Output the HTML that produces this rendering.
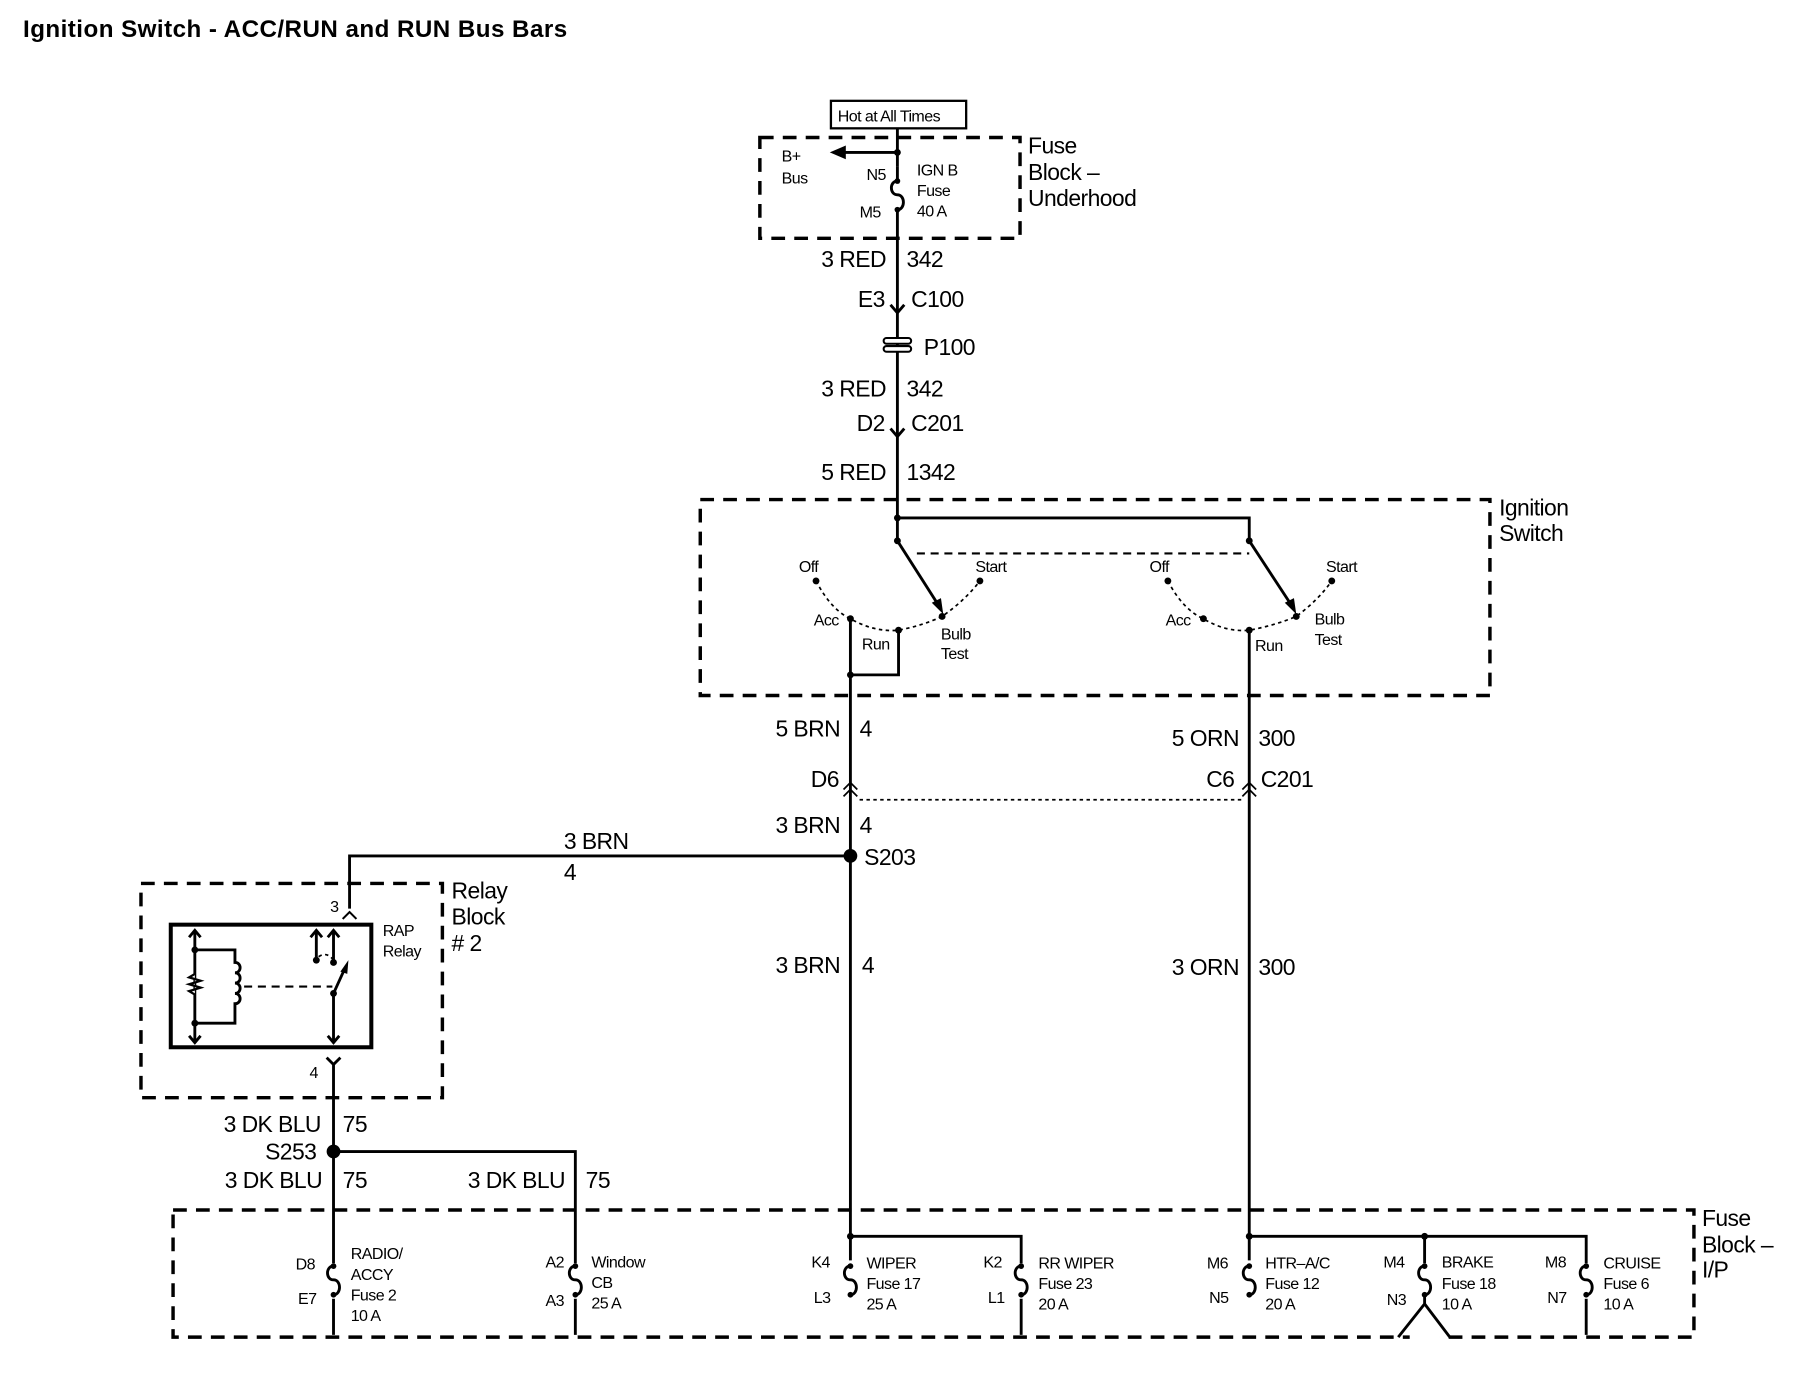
<!DOCTYPE html>
<html><head><meta charset="utf-8"><style>
html,body{margin:0;padding:0;background:#fff;}
svg{display:block;}
text{font-family:"Liberation Sans",Arial,sans-serif;fill:#000;}
.t{font-size:20px;letter-spacing:-0.5px;}
.s{font-size:14px;letter-spacing:-0.5px;}
.ln{stroke:#000;stroke-width:2.5;fill:none;}
.db{stroke:#000;stroke-width:3;fill:none;stroke-dasharray:12 8;}
.dt{stroke:#000;stroke-width:1.5;fill:none;stroke-dasharray:3 3;}
.ds{stroke:#000;stroke-width:1.8;fill:none;stroke-dasharray:7 5;}
</style></head><body>
<svg width="1796" height="1392" viewBox="0 0 1560 1209.4" preserveAspectRatio="none" xmlns="http://www.w3.org/2000/svg">
<text x="20" y="32" style="font-size:21px;font-weight:bold;letter-spacing:0.4px">Ignition Switch - ACC/RUN and RUN Bus Bars</text>
<g transform="scale(0.9955)">
<!-- Hot at all times -->
<rect x="725" y="88" width="118" height="24" fill="none" stroke="#000" stroke-width="2"/>
<text x="731" y="106" class="s">Hot at All Times</text>
<line x1="783" y1="112" x2="783" y2="145" class="ln"/>
<rect x="663" y="120" width="227" height="88" class="db"/>
<text x="897" y="134" class="t">Fuse</text><text x="897" y="157" class="t">Block –</text><text x="897" y="180" class="t">Underhood</text>
<line x1="783" y1="133" x2="735" y2="133" class="ln"/>
<polygon points="724,133 738,127 738,139"/>
<circle cx="783" cy="133" r="3"/>
<text x="682" y="141" class="s">B+</text><text x="682" y="160" class="s">Bus</text>
<path d="M783,145 L783,158 c-7,0 -7,12 0,12 c7,0 7,13 0,13 L783,452" class="ln"/>
<circle cx="783" cy="158" r="2.5"/><circle cx="783" cy="183" r="2.5"/>
<text x="756" y="157" class="s">N5</text><text x="750" y="190" class="s">M5</text>
<text x="800" y="153" class="s">IGN B</text><text x="800" y="171" class="s">Fuse</text><text x="800" y="189" class="s">40  A</text>

<text x="773" y="233" class="t" text-anchor="end">3 RED</text><text x="791" y="233" class="t">342</text>
<text x="772" y="268" class="t" text-anchor="end">E3</text><text x="795" y="268" class="t">C100</text>
<path d="M777,266 L783,273 L789,266" class="ln" stroke-width="1.8"/>
<rect x="771" y="295" width="24" height="5" rx="2.5" fill="#fff" stroke="#000" stroke-width="1.8"/>
<rect x="771" y="302" width="24" height="5" rx="2.5" fill="#fff" stroke="#000" stroke-width="1.8"/>
<text x="806" y="310" class="t">P100</text>
<text x="773" y="346" class="t" text-anchor="end">3 RED</text><text x="791" y="346" class="t">342</text>
<text x="772" y="376" class="t" text-anchor="end">D2</text><text x="795" y="376" class="t">C201</text>
<path d="M777,374 L783,381 L789,374" class="ln" stroke-width="1.8"/>
<text x="773" y="419" class="t" text-anchor="end">5 RED</text><text x="791" y="419" class="t">1342</text>

<rect x="611" y="436" width="689" height="171" class="db"/>
<text x="1308" y="450" class="t">Ignition</text><text x="1308" y="472" class="t">Switch</text>
<path d="M783,452 L783,472 M783,452 L1090,452 L1090,472" class="ln"/>
<circle cx="783" cy="452" r="3"/><circle cx="783" cy="472" r="3"/><circle cx="1090" cy="472" r="3"/>
<line x1="783" y1="472" x2="820" y2="530" class="ln"/>
<polygon points="823,536 813,526 821,522"/>
<line x1="1090" y1="472" x2="1128" y2="530" class="ln"/>
<polygon points="1131,536 1121,526 1129,522"/>
<line x1="800" y1="483" x2="1090" y2="483" class="ds"/>
<path d="M712,507 Q725,532 742,540 Q763,552 784,550 Q805,546 822,538 Q842,524 855,507" class="dt"/>
<path d="M1019,507 Q1032,532 1050,540 Q1070,552 1090,550 Q1112,546 1131,538 Q1150,524 1162,507" class="dt"/>
<g>
<circle cx="712" cy="507" r="3"/><circle cx="742" cy="540" r="3"/><circle cx="784" cy="550" r="3"/><circle cx="822" cy="538" r="3"/><circle cx="855" cy="507" r="3"/>
<circle cx="1019" cy="507" r="3"/><circle cx="1050" cy="540" r="3"/><circle cx="1090" cy="550" r="3"/><circle cx="1131" cy="538" r="3"/><circle cx="1162" cy="507" r="3"/>
</g>
<text x="697" y="499" class="s">Off</text><text x="851" y="499" class="s">Start</text>
<text x="710" y="546" class="s">Acc</text><text x="752" y="567" class="s">Run</text>
<text x="821" y="558" class="s">Bulb</text><text x="821" y="575" class="s">Test</text>
<text x="1003" y="499" class="s">Off</text><text x="1157" y="499" class="s">Start</text>
<text x="1017" y="546" class="s">Acc</text><text x="1095" y="568" class="s">Run</text>
<text x="1147" y="545" class="s">Bulb</text><text x="1147" y="563" class="s">Test</text>
<path d="M742,540 L742,1100 M742,589 L784,589 L784,550" class="ln"/>
<circle cx="742" cy="589" r="3"/>
<path d="M1090,550 L1090,1100" class="ln"/>

<text x="733" y="643" class="t" text-anchor="end">5 BRN</text><text x="750" y="643" class="t">4</text>
<text x="1081" y="651" class="t" text-anchor="end">5 ORN</text><text x="1098" y="651" class="t">300</text>
<text x="732" y="687" class="t" text-anchor="end">D6</text>
<text x="1077" y="687" class="t" text-anchor="end">C6</text><text x="1100" y="687" class="t">C201</text>
<path d="M736,689 L742,683 L748,689 M736,695 L742,689 L748,695" fill="none" stroke="#000" stroke-width="1.5"/>
<path d="M1084,689 L1090,683 L1096,689 M1084,695 L1090,689 L1096,695" fill="none" stroke="#000" stroke-width="1.5"/>
<line x1="750" y1="698" x2="1084" y2="698" class="dt" stroke-dasharray="5 4"/>
<text x="733" y="727" class="t" text-anchor="end">3 BRN</text><text x="750" y="727" class="t">4</text>
<circle cx="742" cy="747" r="6"/>
<text x="754" y="755" class="t">S203</text>
<path d="M742,747 L305,747 L305,793" class="ln"/>
<text x="492" y="741" class="t">3 BRN</text><text x="492" y="768" class="t">4</text>
<text x="733" y="849" class="t" text-anchor="end">3 BRN</text><text x="752" y="849" class="t">4</text>
<text x="1081" y="851" class="t" text-anchor="end">3 ORN</text><text x="1098" y="851" class="t">300</text>

<rect x="123" y="771" width="263" height="187" class="db"/>
<text x="394" y="784" class="t">Relay</text><text x="394" y="807" class="t">Block</text><text x="394" y="830" class="t">#  2</text>
<text x="288" y="796" class="s">3</text>
<path d="M299,802 L305,796 L311,802" fill="none" stroke="#000" stroke-width="1.8"/>
<rect x="149" y="807" width="175" height="107" fill="none" stroke="#000" stroke-width="3.5"/>
<path d="M170,812 L170,910 M165,818 L170,812 L175,818 M165,904 L170,910 L175,904" class="ln" stroke-width="2"/>
<path d="M170,829 L205,829 L205,840 c6,0 6,9 0,9 c6,0 6,9 0,9 c6,0 6,9 0,9 c6,0 6,9 0,9 L205,893 L170,893" class="ln" stroke-width="2"/>
<path d="M170,850 l-5,3 l10,3 l-10,3 l10,3 l-10,3 l5,3" fill="#fff" stroke="#000" stroke-width="2"/>
<circle cx="170" cy="829" r="3"/><circle cx="170" cy="893" r="3"/>
<line x1="213" y1="861" x2="290" y2="861" class="ds" stroke-width="1.5"/>
<path d="M291,812 L291,838 M286,818 L291,812 L296,818 M276,812 L276,838 M271,818 L276,812 L281,818" class="ln" stroke-width="2"/>
<circle cx="276" cy="838" r="3"/><circle cx="291" cy="840" r="3"/>
<path d="M278,835 Q285,830 291,838" class="dt"/>
<path d="M291,867 L291,910 M286,904 L291,910 L296,904 M291,867 L301,845" class="ln" stroke-width="2"/>
<polygon points="304,838 297,848 303,850"/>
<circle cx="291" cy="867" r="3"/>
<text x="334" y="817" class="s">RAP</text><text x="334" y="835" class="s">Relay</text>
<text x="270" y="941" class="s">4</text>
<path d="M285,923 L291,929 L297,923 M291,929 L291,1165" fill="none" stroke="#000" stroke-width="2.5"/>

<text x="280" y="988" class="t" text-anchor="end">3 DK BLU</text><text x="299" y="988" class="t">75</text>
<text x="276" y="1012" class="t" text-anchor="end">S253</text>
<circle cx="291" cy="1005" r="6"/>
<path d="M291,1005 L502,1005 L502,1165" class="ln"/>
<text x="281" y="1037" class="t" text-anchor="end">3 DK BLU</text><text x="299" y="1037" class="t">75</text>
<text x="493" y="1037" class="t" text-anchor="end">3 DK BLU</text><text x="511" y="1037" class="t">75</text>

<rect x="151" y="1056" width="1327" height="111" class="db"/>
<text x="1485" y="1070" class="t">Fuse</text><text x="1485" y="1093" class="t">Block –</text><text x="1485" y="1115" class="t">I/P</text>
<path d="M742,1079 L891,1079 L891,1165 M1090,1079 L1384,1079 L1384,1165 M1243,1079 L1243,1165" class="ln"/>
<circle cx="742" cy="1079" r="3"/><circle cx="1090" cy="1079" r="3"/><circle cx="1243" cy="1079" r="3"/>
<g fill="#fff" stroke="#fff">
<rect x="284" y="1103" width="14" height="30"/><rect x="495" y="1103" width="14" height="30"/><rect x="735" y="1103" width="14" height="30"/>
<rect x="884" y="1103" width="14" height="30"/><rect x="1083" y="1103" width="14" height="30"/><rect x="1236" y="1103" width="14" height="30"/><rect x="1377" y="1103" width="14" height="30"/>
</g>
<g class="ln">
<path d="M291,1105 c-7,0 -7,12 0,12 c7,0 7,13 0,13"/>
<path d="M502,1105 c-7,0 -7,12 0,12 c7,0 7,13 0,13"/>
<path d="M742,1105 c-7,0 -7,12 0,12 c7,0 7,13 0,13"/>
<path d="M891,1105 c-7,0 -7,12 0,12 c7,0 7,13 0,13"/>
<path d="M1090,1105 c-7,0 -7,12 0,12 c7,0 7,13 0,13"/>
<path d="M1243,1105 c-7,0 -7,12 0,12 c7,0 7,13 0,13"/>
<path d="M1384,1105 c-7,0 -7,12 0,12 c7,0 7,13 0,13"/>
</g>
<rect x="1230" y="1133" width="26" height="36" fill="#fff"/>
<path d="M1243,1130 L1243,1138 L1220,1167 M1243,1138 L1265,1167" class="ln" stroke-width="2"/>
<g>
<circle cx="291" cy="1105" r="2.5"/><circle cx="291" cy="1130" r="2.5"/>
<circle cx="502" cy="1105" r="2.5"/><circle cx="502" cy="1130" r="2.5"/>
<circle cx="742" cy="1105" r="2.5"/><circle cx="742" cy="1130" r="2.5"/>
<circle cx="891" cy="1105" r="2.5"/><circle cx="891" cy="1130" r="2.5"/>
<circle cx="1090" cy="1105" r="2.5"/><circle cx="1090" cy="1130" r="2.5"/>
<circle cx="1243" cy="1105" r="2.5"/><circle cx="1243" cy="1130" r="2.5"/>
<circle cx="1384" cy="1105" r="2.5"/><circle cx="1384" cy="1130" r="2.5"/>
</g>
<text x="258" y="1108" class="s">D8</text><text x="260" y="1138" class="s">E7</text>
<text x="306" y="1099" class="s">RADIO/</text><text x="306" y="1117" class="s">ACCY</text><text x="306" y="1135" class="s">Fuse 2</text><text x="306" y="1153" class="s">10 A</text>
<text x="476" y="1106" class="s">A2</text><text x="476" y="1140" class="s">A3</text>
<text x="516" y="1106" class="s">Window</text><text x="516" y="1124" class="s">CB</text><text x="516" y="1142" class="s">25 A</text>
<text x="708" y="1106" class="s">K4</text><text x="710" y="1137" class="s">L3</text>
<text x="756" y="1107" class="s">WIPER</text><text x="756" y="1125" class="s">Fuse 17</text><text x="756" y="1143" class="s">25 A</text>
<text x="858" y="1106" class="s">K2</text><text x="862" y="1137" class="s">L1</text>
<text x="906" y="1107" class="s">RR WIPER</text><text x="906" y="1125" class="s">Fuse 23</text><text x="906" y="1143" class="s">20 A</text>
<text x="1053" y="1107" class="s">M6</text><text x="1055" y="1137" class="s">N5</text>
<text x="1104" y="1107" class="s">HTR–A/C</text><text x="1104" y="1125" class="s">Fuse 12</text><text x="1104" y="1143" class="s">20 A</text>
<text x="1207" y="1106" class="s">M4</text><text x="1210" y="1139" class="s">N3</text>
<text x="1258" y="1106" class="s">BRAKE</text><text x="1258" y="1125" class="s">Fuse 18</text><text x="1258" y="1143" class="s">10 A</text>
<text x="1348" y="1106" class="s">M8</text><text x="1350" y="1137" class="s">N7</text>
<text x="1399" y="1107" class="s">CRUISE</text><text x="1399" y="1125" class="s">Fuse 6</text><text x="1399" y="1143" class="s">10 A</text>
</g>
</svg>
</body></html>
